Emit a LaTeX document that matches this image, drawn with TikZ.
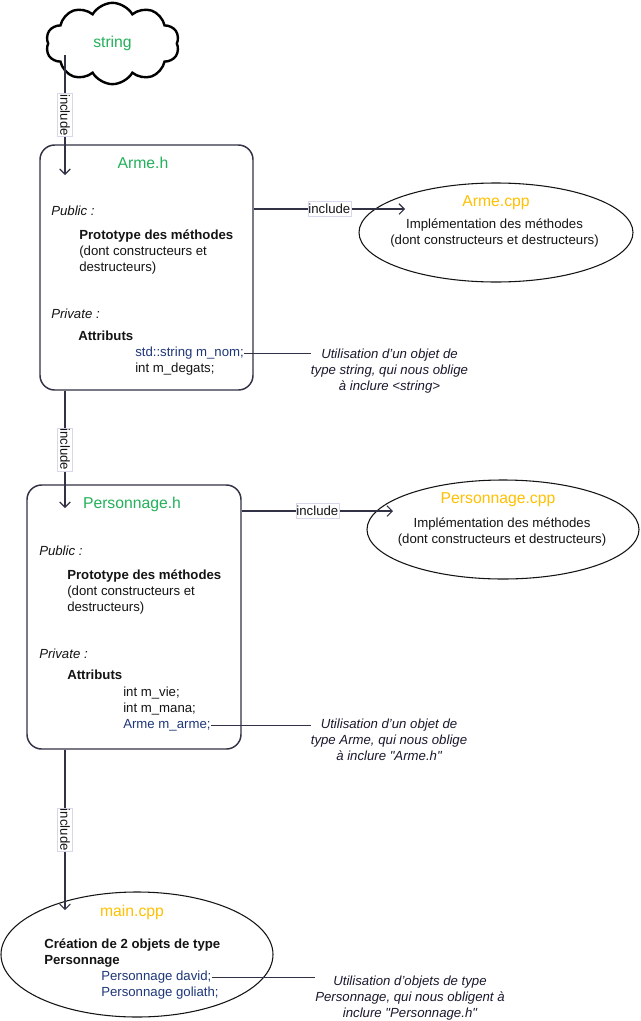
\documentclass[tikz,border=0pt]{standalone}
\usepackage{fontspec}
\setmainfont{Liberation Sans}
\usetikzlibrary{shapes.geometric,shapes.symbols,arrows.meta}
\definecolor{hgreen}{RGB}{34,177,90}
\definecolor{corange}{RGB}{255,192,0}
\definecolor{codeblue}{RGB}{30,55,120}
\definecolor{txtc}{RGB}{20,20,20}
\definecolor{linec}{RGB}{50,50,70}
\definecolor{notec}{RGB}{25,25,45}
\definecolor{lblborder}{RGB}{215,215,235}
\begin{document}
\begin{tikzpicture}[x=0.75pt,y=-0.75pt,
  body/.style={font=\fontsize{9.9pt}{12pt}\selectfont, text=txtc, inner sep=0pt},
  bodyl/.style={body, anchor=base west},
  code/.style={bodyl, text=codeblue},
  title/.style={font=\fontsize{11.8pt}{14pt}\selectfont, inner sep=0pt, anchor=base},
  hbox/.style={draw=linec, line width=1.1pt, rounded corners=11pt},
  cppell/.style={ellipse, draw=txtc, line width=0.8pt},
  conn/.style={draw=linec, line width=0.8pt, -{Straight Barb[length=4pt,width=8pt]}},
  lbl/.style={body, fill=white, draw=lblborder, line width=0.4pt, inner xsep=0.5pt, inner ysep=2pt, rotate=-90},
  lblh/.style={body, fill=white, draw=lblborder, line width=0.4pt, inner xsep=0.5pt, inner ysep=2pt},
  note/.style={body, font=\fontsize{9.9pt}{12pt}\selectfont\itshape, text=notec, align=center, anchor=north},
  noteline/.style={draw=linec, line width=0.8pt}
]
\fill[white] (0,0) rectangle (640,1021);
\useasboundingbox (0,0) rectangle (640,1021);

% cloud
\node[cloud, cloud puffs=10, cloud puff arc=120, cloud ignores aspect, draw=black, line width=1.8pt,
      minimum width=100pt, minimum height=61pt, inner sep=0pt,
      font=\fontsize{11.8pt}{14pt}\selectfont, text=hgreen] (string) at (112.5,43.5) {string};

% boxes and ellipses
\node[hbox, minimum width=159.75pt, minimum height=183.75pt] (armeh) at (146.5,267.5) {};
\node[hbox, minimum width=160.5pt, minimum height=198pt] (persoh) at (134,617) {};
\node[cppell, minimum width=205.5pt, minimum height=74.25pt] (armecpp) at (496,232.5) {};
\node[cppell, minimum width=204pt, minimum height=74.25pt] (persocpp) at (503,529.5) {};
\node[cppell, minimum width=204pt, minimum height=93.75pt] (maincpp) at (137,954.5) {};

% titles
\node[title, text=hgreen] (armehT) at (143,168.7) {Arme.h};
\node[title, text=corange] (armecppT) at (496,206.7) {Arme.cpp};
\node[title, text=hgreen] (persohT) at (132,508.7) {Personnage.h};
\node[title, text=corange] (persocppT) at (498,503.7) {Personnage.cpp};
\node[title, text=corange] (maincppT) at (132,916.7) {main.cpp};

% Arme.h contents
\node[bodyl] (pub1) at (51,215.7) {\itshape Public :};
\node[body, align=left, anchor=north west] (proto1) at (79,229.2) {\textbf{Prototype des méthodes}\\(dont constructeurs et\\destructeurs)};
\node[bodyl] (priv1) at (51,318.7) {\itshape Private :};
\node[bodyl] (attr1) at (78,340.7) {\bfseries Attributs};
\node[code] (nom) at (135,356.7) {std::string m\_nom;};
\node[bodyl] (degats) at (135,372.7) {int m\_degats;};

% Arme.cpp contents
\node[body, align=center, anchor=north] (armecppD) at (494.5,218.2) {Implémentation des méthodes\\(dont constructeurs et destructeurs)};

% note 1
\node[note] (note1) at (389.5,348.2) {Utilisation d’un objet de\\type string, qui nous oblige\\à inclure <string>};

% Personnage.h contents
\node[bodyl] (pub2) at (39,555.7) {\itshape Public :};
\node[body, align=left, anchor=north west] (proto2) at (67,569.2) {\textbf{Prototype des méthodes}\\(dont constructeurs et\\destructeurs)};
\node[bodyl] (priv2) at (39,658.7) {\itshape Private :};
\node[bodyl] (attr2) at (67,679.7) {\bfseries Attributs};
\node[bodyl] (vie) at (123,696.7) {int m\_vie;};
\node[bodyl] (mana) at (123,712.7) {int m\_mana;};
\node[code] (marme) at (123,728.7) {Arme m\_arme;};

% Personnage.cpp contents
\node[body, align=center, anchor=north] (persocppD) at (502,517.2) {Implémentation des méthodes\\(dont constructeurs et destructeurs)};

% note 2
\node[note] (note2) at (389,718.2) {Utilisation d’un objet de\\type Arme, qui nous oblige\\à inclure \textquotedbl Arme.h\textquotedbl};

% main.cpp contents
\node[body, align=left, anchor=north west, font=\fontsize{9.9pt}{12pt}\selectfont\bfseries] (crea) at (44,938.2) {Création de 2 objets de type\\Personnage};
\node[code] (david) at (101,980.7) {Personnage david;};
\node[code] (goliath) at (101,996.7) {Personnage goliath;};

% note 3
\node[note] (note3) at (410,975.2) {Utilisation d’objets de type\\Personnage, qui nous obligent à\\inclure \textquotedbl Personnage.h\textquotedbl};

% connectors
\coordinate (s1) at (65,55);
\coordinate (e1) at (65,175);
\draw[conn] (s1) -- node[lbl]{include} (e1);

\coordinate (e2) at (405,209);
\draw[conn] (armeh.east |- e2) -- node[lblh]{include} (e2);

\coordinate (e3) at (65,508);
\draw[conn] (armeh.south -| e3) -- node[lbl]{include} (e3);

\coordinate (e4) at (393,511);
\draw[conn] (persoh.east |- e4) -- node[lblh]{include} (e4);

\coordinate (e5) at (65,910);
\draw[conn] (persoh.south -| e5) -- node[lbl]{include} (e5);

% note lines
\draw[noteline] (nom.east) -- (nom.east -| note1.west);
\draw[noteline] (marme.east) -- (marme.east -| note2.west);
\draw[noteline] (david.east) -- (david.east -| note3.west);
\end{tikzpicture}
\end{document}
